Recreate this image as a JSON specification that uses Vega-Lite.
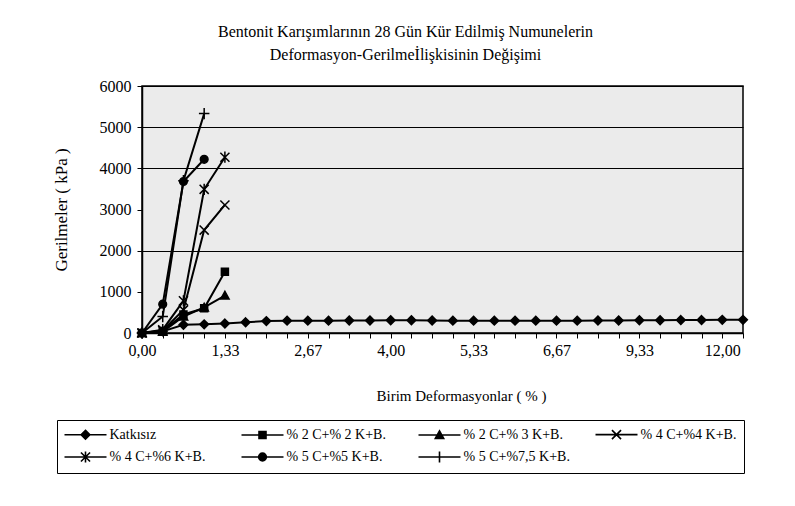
{
  "$schema": "https://vega.github.io/schema/vega-lite/v6.json",
  "width": 601,
  "height": 247,
  "autosize": {"type": "none"},
  "padding": {"left": 142, "top": 86, "right": 52, "bottom": 173},
  "background": "white",
  "config": {
    "font": "Liberation Serif",
    "view": {"stroke": "black", "strokeWidth": 1.5, "fill": "#ebebeb"}
  },
  "title": {
    "text": ["Bentonit Karışımlarının 28 Gün Kür Edilmiş Numunelerin", "Deformasyon-Gerilmeİlişkisinin Değişimi"],
    "font": "Liberation Serif",
    "fontSize": 16,
    "fontWeight": "normal",
    "lineHeight": 23,
    "anchor": "middle",
    "dx": -37,
    "offset": 15,
    "color": "black"
  },
  "data": {
    "values": [
      {"s": "Katkısız", "x": "0,00", "y": 0},
      {"s": "Katkısız", "x": "0,33", "y": 40},
      {"s": "Katkısız", "x": "0,67", "y": 200},
      {"s": "Katkısız", "x": "1,00", "y": 210},
      {"s": "Katkısız", "x": "1,33", "y": 230},
      {"s": "Katkısız", "x": "1,67", "y": 260},
      {"s": "Katkısız", "x": "2,00", "y": 290},
      {"s": "Katkısız", "x": "2,33", "y": 300},
      {"s": "Katkısız", "x": "2,67", "y": 300},
      {"s": "Katkısız", "x": "3,00", "y": 300},
      {"s": "Katkısız", "x": "3,33", "y": 305},
      {"s": "Katkısız", "x": "3,67", "y": 305},
      {"s": "Katkısız", "x": "4,00", "y": 310},
      {"s": "Katkısız", "x": "4,33", "y": 310},
      {"s": "Katkısız", "x": "4,67", "y": 305},
      {"s": "Katkısız", "x": "5,00", "y": 300},
      {"s": "Katkısız", "x": "5,33", "y": 300},
      {"s": "Katkısız", "x": "5,67", "y": 300},
      {"s": "Katkısız", "x": "6,00", "y": 300},
      {"s": "Katkısız", "x": "6,33", "y": 300},
      {"s": "Katkısız", "x": "6,67", "y": 300},
      {"s": "Katkısız", "x": "7,33", "y": 300},
      {"s": "Katkısız", "x": "8,00", "y": 305},
      {"s": "Katkısız", "x": "8,67", "y": 305},
      {"s": "Katkısız", "x": "9,33", "y": 310},
      {"s": "Katkısız", "x": "10,00", "y": 310},
      {"s": "Katkısız", "x": "10,67", "y": 315},
      {"s": "Katkısız", "x": "11,33", "y": 315},
      {"s": "Katkısız", "x": "12,00", "y": 320},
      {"s": "Katkısız", "x": "12,67", "y": 320},
      {"s": "% 2 C+% 2 K+B.", "x": "0,00", "y": 0},
      {"s": "% 2 C+% 2 K+B.", "x": "0,33", "y": 50},
      {"s": "% 2 C+% 2 K+B.", "x": "0,67", "y": 450},
      {"s": "% 2 C+% 2 K+B.", "x": "1,00", "y": 600},
      {"s": "% 2 C+% 2 K+B.", "x": "1,33", "y": 1490},
      {"s": "% 2 C+% 3 K+B.", "x": "0,00", "y": 0},
      {"s": "% 2 C+% 3 K+B.", "x": "0,33", "y": 30},
      {"s": "% 2 C+% 3 K+B.", "x": "0,67", "y": 400},
      {"s": "% 2 C+% 3 K+B.", "x": "1,00", "y": 620},
      {"s": "% 2 C+% 3 K+B.", "x": "1,33", "y": 910},
      {"s": "% 4 C+%4 K+B.", "x": "0,00", "y": 0},
      {"s": "% 4 C+%4 K+B.", "x": "0,33", "y": 60},
      {"s": "% 4 C+%4 K+B.", "x": "0,67", "y": 560},
      {"s": "% 4 C+%4 K+B.", "x": "1,00", "y": 2500},
      {"s": "% 4 C+%4 K+B.", "x": "1,33", "y": 3110},
      {"s": "% 4 C+%6 K+B.", "x": "0,00", "y": 0},
      {"s": "% 4 C+%6 K+B.", "x": "0,33", "y": 80},
      {"s": "% 4 C+%6 K+B.", "x": "0,67", "y": 780},
      {"s": "% 4 C+%6 K+B.", "x": "1,00", "y": 3490},
      {"s": "% 4 C+%6 K+B.", "x": "1,33", "y": 4270},
      {"s": "% 5 C+%5 K+B.", "x": "0,00", "y": 0},
      {"s": "% 5 C+%5 K+B.", "x": "0,33", "y": 700},
      {"s": "% 5 C+%5 K+B.", "x": "0,67", "y": 3680},
      {"s": "% 5 C+%5 K+B.", "x": "1,00", "y": 4220},
      {"s": "% 5 C+%7,5 K+B.", "x": "0,00", "y": 0},
      {"s": "% 5 C+%7,5 K+B.", "x": "0,33", "y": 400},
      {"s": "% 5 C+%7,5 K+B.", "x": "0,67", "y": 3700},
      {"s": "% 5 C+%7,5 K+B.", "x": "1,00", "y": 5330}
    ]
  },
  "encoding": {
    "x": {
      "field": "x",
      "type": "ordinal",
      "scale": {
        "type": "point",
        "padding": 0,
        "domain": ["0,00","0,33","0,67","1,00","1,33","1,67","2,00","2,33","2,67","3,00","3,33","3,67","4,00","4,33","4,67","5,00","5,33","5,67","6,00","6,33","6,67","7,33","8,00","8,67","9,33","10,00","10,67","11,33","12,00","12,67"]
      },
      "axis": {
        "title": "Birim Deformasyonlar ( % )",
        "titleFont": "Liberation Serif",
        "titleFontSize": 15,
        "titleFontWeight": "normal",
        "titleColor": "black",
        "titlePadding": 30,
        "titleX": 319,
        "labelFont": "Liberation Serif",
        "labelFontSize": 16,
        "labelColor": "black",
        "labelAngle": 0,
        "labelPadding": 4,
        "labelOverlap": false,
        "labelExpr": "indexof(['0,00','1,33','2,67','4,00','5,33','6,67','9,33','12,00'], datum.label) >= 0 ? datum.label : ''",
        "tickSize": 5,
        "tickColor": "black",
        "domainColor": "black",
        "domainWidth": 1.5,
        "grid": false
      }
    },
    "y": {
      "field": "y",
      "type": "quantitative",
      "scale": {"domain": [0, 6000], "nice": false},
      "axis": {
        "title": "Gerilmeler ( kPa )",
        "titleFont": "Liberation Serif",
        "titleFontSize": 17,
        "titleFontWeight": "normal",
        "titleColor": "black",
        "titlePadding": 29,
        "values": [0, 1000, 2000, 3000, 4000, 5000, 6000],
        "format": "d",
        "labelFont": "Liberation Serif",
        "labelFontSize": 16,
        "labelColor": "black",
        "labelPadding": 6,
        "tickSize": 5,
        "tickColor": "black",
        "domainColor": "black",
        "domainWidth": 1.5,
        "grid": true,
        "gridColor": "black",
        "gridWidth": 1.2,
        "gridOpacity": {"condition": {"test": "datum.value == 0 || datum.value == 1000 || datum.value == 3000", "value": 0}, "value": 1}
      }
    }
  },
  "layer": [
    {
      "mark": {"type": "line", "color": "black", "strokeWidth": 2},
      "encoding": {"detail": {"field": "s", "type": "nominal"}}
    },
    {
      "mark": {"type": "point", "filled": false, "fill": "black", "stroke": "black", "strokeWidth": 1.5, "size": 49, "opacity": 1},
      "encoding": {
        "shape": {
          "field": "s",
          "type": "nominal",
          "scale": {
            "domain": ["Katkısız", "% 2 C+% 2 K+B.", "% 2 C+% 3 K+B.", "% 4 C+%4 K+B.", "% 4 C+%6 K+B.", "% 5 C+%5 K+B.", "% 5 C+%7,5 K+B."],
            "range": [
              "M0,-1.25L1.25,0L0,1.25L-1.25,0Z",
              "M-1,-1H1V1H-1Z",
              "M0,-1.2L1.2,1L-1.2,1Z",
              "M-1.3,-1.3L1.3,1.3M-1.3,1.3L1.3,-1.3",
              "M-1.3,-1.3L1.3,1.3M-1.3,1.3L1.3,-1.3M0,-1.6V1.6",
              "M-1.1,0A1.1,1.1,0,1,0,1.1,0A1.1,1.1,0,1,0,-1.1,0Z",
              "M-1.5,0H1.5M0,-1.6V1.6"
            ]
          },
          "legend": null
        }
      }
    },
    {
      "mark": {"type": "point", "filled": false, "fill": "black", "stroke": "black", "strokeWidth": 1.5, "size": 49, "opacity": 0},
      "encoding": {
        "shape": {
          "field": "s",
          "type": "nominal",
          "scale": {
            "domain": ["Katkısız", "% 2 C+% 2 K+B.", "% 2 C+% 3 K+B.", "% 4 C+%4 K+B.", "% 4 C+%6 K+B.", "% 5 C+%5 K+B.", "% 5 C+%7,5 K+B."],
            "range": [
              "M-6,0H6M0,-1.25L1.25,0L0,1.25L-1.25,0Z",
              "M-6,0H6M-1,-1H1V1H-1Z",
              "M-6,0H6M0,-1.2L1.2,1L-1.2,1Z",
              "M-6,0H6M-1.3,-1.3L1.3,1.3M-1.3,1.3L1.3,-1.3",
              "M-6,0H6M-1.3,-1.3L1.3,1.3M-1.3,1.3L1.3,-1.3M0,-1.6V1.6",
              "M-6,0H6M-1.1,0A1.1,1.1,0,1,0,1.1,0A1.1,1.1,0,1,0,-1.1,0Z",
              "M-6,0H6M-1.5,0H1.5M0,-1.6V1.6"
            ]
          },
          "legend": {
            "title": null,
            "orient": "none",
            "legendX": -85,
            "legendY": 334,
            "direction": "horizontal",
            "columns": 4,
            "gridAlign": "all",
            "columnPadding": 22,
            "rowPadding": 5,
            "padding": 7,
            "strokeColor": "black",
            "fillColor": "white",
            "symbolSize": 49,
            "symbolStrokeWidth": 1.6,
            "symbolOpacity": 1,
            "symbolOffset": 14.5,
            "labelOffset": 17,
            "labelFont": "Liberation Serif",
            "labelFontSize": 14,
            "labelColor": "black",
            "labelLimit": 0
          }
        }
      }
    }
  ],
  "resolve": {"scale": {"shape": "independent"}, "legend": {"shape": "independent"}}
}
